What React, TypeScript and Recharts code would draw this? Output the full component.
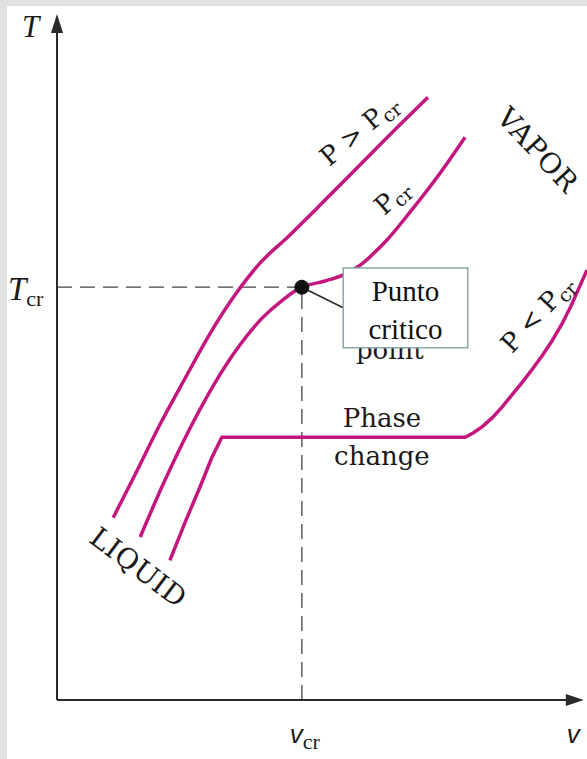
import React from "react"
import {
  ComposedChart,
  Line,
  XAxis,
  YAxis,
  ReferenceLine,
  ReferenceDot,
  ReferenceArea,
} from "recharts"

// v and T on a 0..100 scale
const vCrit = 46.2
const tCrit = 60

const superCritical = [
  { x: 10.6, y: 26.5 },
  { x: 14.7, y: 32.7 },
  { x: 19.4, y: 40.0 },
  { x: 24.2, y: 46.8 },
  { x: 28.9, y: 53.3 },
  { x: 33.6, y: 58.9 },
  { x: 38.3, y: 63.5 },
  { x: 43.4, y: 67.2 },
  { x: 49.6, y: 71.9 },
  { x: 57.2, y: 77.8 },
  { x: 64.7, y: 83.6 },
  { x: 70.0, y: 87.6 },
]

const criticalIsobar = [
  { x: 15.7, y: 23.7 },
  { x: 20.4, y: 32.0 },
  { x: 25.1, y: 39.5 },
  { x: 29.8, y: 46.1 },
  { x: 34.5, y: 51.6 },
  { x: 38.7, y: 55.5 },
  { x: 42.5, y: 58.1 },
  { x: 46.2, y: 60.0 },
  { x: 50.6, y: 60.9 },
  { x: 54.0, y: 61.8 },
  { x: 57.2, y: 63.2 },
  { x: 60.4, y: 65.4 },
  { x: 62.3, y: 66.9 },
  { x: 66.6, y: 70.9 },
  { x: 72.3, y: 76.6 },
  { x: 77.0, y: 81.8 },
]

const subCritical = [
  { x: 21.3, y: 20.3 },
  { x: 24.2, y: 25.9 },
  { x: 27.0, y: 31.0 },
  { x: 29.2, y: 35.2 },
  { x: 31.1, y: 38.2 },
  { x: 77.0, y: 38.2 },
  { x: 78.5, y: 38.8 },
  { x: 80.2, y: 39.7 },
  { x: 82.1, y: 41.0 },
  { x: 84.0, y: 42.6 },
  { x: 85.8, y: 44.3 },
  { x: 87.7, y: 46.1 },
  { x: 89.6, y: 48.0 },
  { x: 91.5, y: 50.0 },
  { x: 93.4, y: 52.2 },
  { x: 95.3, y: 54.7 },
  { x: 97.0, y: 57.3 },
  { x: 98.5, y: 59.9 },
  { x: 100, y: 62.5 },
]

const calloutBox = { v1: 54.0, v2: 77.5, t1: 51.2, t2: 62.8 }
const calloutTail = { v: 54.0, t: 57.0 }
const calloutLines = ["Punto", "critico"]

const curveLabels = [
  { id: "above", v: 57.0, t: 82.8, main: "P > P", sub: "cr", angle: -40 },
  { id: "crit", v: 63.2, t: 73.1, main: "P", sub: "cr", angle: -42 },
  { id: "below", v: 90.6, t: 56.1, main: "P < P", sub: "cr", angle: -47 },
  { id: "vapor", v: 90.6, t: 79.9, main: "VAPOR", sub: "", angle: 47 },
  { id: "liquid", v: 15.3, t: 19.2, main: "LIQUID", sub: "", angle: 37 },
]

const plainLabels = [
  { id: "point", v: 62.8, t: 49.6, text: "point" },
  { id: "phase", v: 61.3, t: 39.7, text: "Phase" },
  { id: "change", v: 61.3, t: 34.2, text: "change" },
]

const MAGENTA = "#c4167f"
const INK = "#2a2a2a"
const SERIF = "'DejaVu Serif', serif"
const TIMES = "'Liberation Serif', 'Times New Roman', serif"

const upArrow = (p: any) => (
  <polygon points={`${p.cx},${p.cy} ${p.cx - 6},${p.cy + 19} ${p.cx + 6},${p.cy + 19}`} fill={INK} />
)
const rightArrow = (p: any) => (
  <polygon points={`${p.cx},${p.cy} ${p.cx - 18},${p.cy - 6} ${p.cx - 18},${p.cy + 6}`} fill={INK} />
)

function curveLabel(l: (typeof curveLabels)[number]) {
  const big = l.id === "vapor" || l.id === "liquid"
  return (p: any) => (
    <text
      x={p.cx}
      y={p.cy + 9}
      textAnchor="middle"
      transform={`rotate(${l.angle} ${p.cx} ${p.cy})`}
      fontFamily={SERIF}
      fontSize={big ? 28 : 26}
      letterSpacing={big ? 0.5 : 0}
      fill="#1a1a1a"
    >
      {l.main}
      {l.sub && (
        <tspan fontSize={19} dy={5}>
          {l.sub}
        </tspan>
      )}
    </text>
  )
}

export default function App() {
  return (
    <div style={{ position: "absolute", left: 0, top: 0, width: 587, height: 759, background: "#e1e1e1" }}>
      <div style={{ position: "absolute", left: 7, top: 6, right: 0, bottom: 0, background: "#fff" }} />
      <div style={{ position: "absolute", left: 0, top: 0 }}>
        <ComposedChart width={587} height={759} margin={{ top: 12, right: 0, bottom: 59, left: 57 }}>
          <XAxis type="number" dataKey="x" domain={[0, 100]} allowDataOverflow hide />
          <YAxis type="number" dataKey="y" domain={[0, 100]} allowDataOverflow hide />

          <ReferenceLine
            segment={[{ x: 0, y: tCrit }, { x: vCrit, y: tCrit }]}
            stroke="#444"
            strokeWidth={1.3}
            strokeDasharray="15 8"
            zIndex={300}
          />
          <ReferenceLine
            segment={[{ x: vCrit, y: 0 }, { x: vCrit, y: tCrit }]}
            stroke="#444"
            strokeWidth={1.3}
            strokeDasharray="15 8"
            zIndex={300}
          />

          <Line data={superCritical} dataKey="y" type="monotone" stroke={MAGENTA} strokeWidth={3.5} dot={false} isAnimationActive={false} zIndex={400} />
          <Line data={criticalIsobar} dataKey="y" type="monotone" stroke={MAGENTA} strokeWidth={3.5} dot={false} isAnimationActive={false} zIndex={400} />
          <Line data={subCritical} dataKey="y" type="linear" stroke={MAGENTA} strokeWidth={3.5} dot={false} isAnimationActive={false} zIndex={400} />

          <ReferenceLine segment={[{ x: 0, y: 0 }, { x: 0, y: 97.5 }]} stroke={INK} strokeWidth={2} zIndex={500} />
          <ReferenceLine segment={[{ x: 0, y: 0 }, { x: 97, y: 0 }]} stroke={INK} strokeWidth={2} zIndex={500} />
          <ReferenceDot x={0} y={99.7} shape={upArrow} ifOverflow="visible" zIndex={500} />
          <ReferenceDot x={99.4} y={0} shape={rightArrow} ifOverflow="visible" zIndex={500} />

          {plainLabels.map((l) => (
            <ReferenceDot
              key={l.id}
              x={l.v}
              y={l.t}
              ifOverflow="visible"
              zIndex={600}
              shape={(p: any) => (
                <text x={p.cx} y={p.cy} textAnchor="middle" fontFamily={SERIF} fontSize={26} fill="#1a1a1a">
                  {l.text}
                </text>
              )}
            />
          ))}

          <ReferenceLine
            segment={[{ x: vCrit, y: tCrit }, { x: calloutTail.v, y: calloutTail.t }]}
            stroke={INK}
            strokeWidth={1.6}
            zIndex={650}
          />
          <ReferenceArea
            x1={calloutBox.v1}
            x2={calloutBox.v2}
            y1={calloutBox.t1}
            y2={calloutBox.t2}
            fill="#fff"
            fillOpacity={1}
            stroke="#88a6a8"
            strokeWidth={1.5}
            zIndex={700}
          />
          <ReferenceDot
            x={(calloutBox.v1 + calloutBox.v2) / 2}
            y={(calloutBox.t1 + calloutBox.t2) / 2}
            ifOverflow="visible"
            zIndex={750}
            shape={(p: any) => (
              <text x={p.cx} textAnchor="middle" fontFamily={TIMES} fontSize={29} fill="#111">
                <tspan x={p.cx} y={p.cy - 7}>{calloutLines[0]}</tspan>
                <tspan x={p.cx} y={p.cy + 31}>{calloutLines[1]}</tspan>
              </text>
            )}
          />
          <ReferenceDot x={vCrit} y={tCrit} r={7} fill="#111" stroke="#111" zIndex={800} />

          {curveLabels.map((l) => (
            <ReferenceDot key={l.id} x={l.v} y={l.t} ifOverflow="visible" zIndex={900} shape={curveLabel(l)} />
          ))}

          <ReferenceDot
            x={0}
            y={98}
            ifOverflow="visible"
            zIndex={900}
            shape={(p: any) => (
              <text x={p.cx - 35} y={p.cy + 11} fontFamily={TIMES} fontStyle="italic" fontSize={31} fill="#1a1a1a">
                T
              </text>
            )}
          />
          <ReferenceDot
            x={0}
            y={tCrit}
            ifOverflow="visible"
            zIndex={900}
            shape={(p: any) => (
              <text x={p.cx - 49} y={p.cy + 13} fontFamily={TIMES} fill="#1a1a1a">
                <tspan fontStyle="italic" fontSize={33}>T</tspan>
                <tspan fontSize={22} dy={6}>cr</tspan>
              </text>
            )}
          />
          <ReferenceDot
            x={vCrit}
            y={0}
            ifOverflow="visible"
            zIndex={900}
            shape={(p: any) => (
              <text x={p.cx + 3} y={p.cy + 43} textAnchor="middle" fill="#1a1a1a">
                <tspan fontFamily="'Liberation Sans', sans-serif" fontStyle="italic" fontSize={26}>v</tspan>
                <tspan fontFamily={TIMES} fontSize={22} dy={6}>cr</tspan>
              </text>
            )}
          />
          <ReferenceDot
            x={97.4}
            y={0}
            ifOverflow="visible"
            zIndex={900}
            shape={(p: any) => (
              <text x={p.cx} y={p.cy + 43} textAnchor="middle" fontFamily="'Liberation Sans', sans-serif" fontStyle="italic" fontSize={26} fill="#1a1a1a">
                v
              </text>
            )}
          />
        </ComposedChart>
      </div>
    </div>
  )
}
